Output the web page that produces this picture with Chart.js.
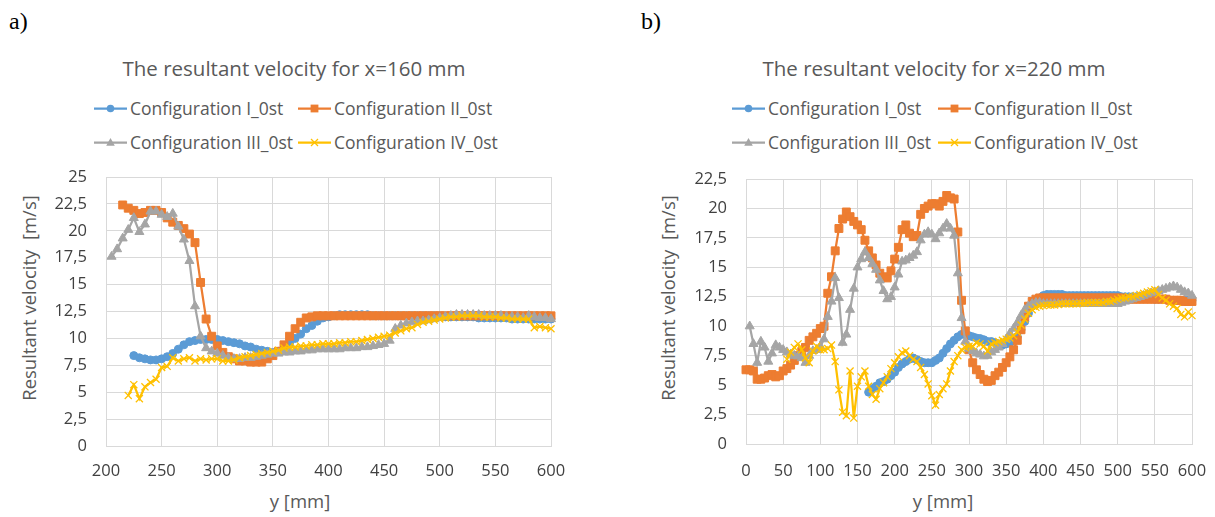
<!DOCTYPE html>
<html>
<head>
<meta charset="utf-8">
<script src="https://cdn.jsdelivr.net/npm/chart.js@4.4.1/dist/chart.umd.min.js"></script>
<style>
html,body{margin:0;padding:0;background:#fff;}
body{width:1215px;height:517px;position:relative;overflow:hidden;font-family:'Open Sans',sans-serif;color:#595959;}
.abs{position:absolute;white-space:nowrap;}
.plabel{font-family:'Liberation Serif','Times New Roman',serif;font-size:24px;color:#000;line-height:1;}
.title{font-size:20.5px;line-height:1.2;transform:translate(-50%,-50%);}
.leg{font-size:17.5px;line-height:1.2;transform:translateY(-50%);display:flex;align-items:center;}
.leg svg{margin-right:3px;flex:none}
.axt{font-size:18.5px;line-height:1.2;transform:translate(-50%,-50%);}
.axt.rot{transform:translate(-50%,-50%) rotate(-90deg);}
canvas{position:absolute;}
</style>
</head>
<body>
<div class="abs plabel" style="left:9px;top:9px">a)</div>
<div class="abs plabel" style="left:641px;top:9px">b)</div>
<div class="abs title" style="left:294px;top:68px">The resultant velocity for x=160 mm</div>
<div class="abs title" style="left:934px;top:68px">The resultant velocity for x=220 mm</div>
<div class="abs axt rot" style="left:29px;top:298px">Resultant velocity&nbsp; [m/s]</div>
<div class="abs axt rot" style="left:668px;top:298px">Resultant velocity&nbsp; [m/s]</div>
<div class="abs axt" style="left:300px;top:501px">y [mm]</div>
<div class="abs axt" style="left:943px;top:501px">y [mm]</div>
<div id="legends"></div>
<canvas id="cLeft" width="600" height="367" style="left:0px;top:150px;width:600px;height:367px"></canvas>
<canvas id="cRight" width="595" height="367" style="left:620px;top:150px;width:595px;height:367px"></canvas>
<script>
// ---------- DATA ----------
const seriesNames = ['Configuration I_0st', 'Configuration II_0st', 'Configuration III_0st', 'Configuration IV_0st'];
const seriesColors = ['#5B9BD5', '#ED7D31', '#A5A5A5', '#FFC000'];

// Panel a) x = 160 mm : y positions [mm]
const leftY_mm = [
 205,210,215,220,225,230,235,240,245,250,
 255,260,265,270,275,280,285,290,295,300,
 305,310,315,320,325,330,335,340,345,350,
 355,360,365,370,375,380,385,390,395,400,
 405,410,415,420,425,430,435,440,445,450,
 455,460,465,470,475,480,485,490,495,500,
 505,510,515,520,525,530,535,540,545,550,
 555,560,565,570,575,580,585,590,595,600];
const leftConfI = [
 null,null,null,null,8.4,8.2,8.1,8.0,8.0,8.1,
 8.3,8.6,9.0,9.4,9.7,9.8,9.9,9.9,9.9,9.9,
 9.8,9.7,9.6,9.5,9.3,9.2,9.0,8.9,8.8,8.7,
 8.8,9.1,9.6,10.0,10.4,10.9,11.2,11.6,11.9,12.0,
 12.1,12.2,12.2,12.2,12.2,12.2,12.2,12.1,12.1,12.1,
 12.1,12.1,12.1,12.1,12.1,12.1,12.1,12.1,12.1,12.1,
 12.0,12.0,12.0,12.0,12.0,12.0,11.9,11.9,11.9,11.9,
 11.9,11.9,11.8,11.8,11.8,11.8,11.8,11.8,11.8,11.8];
const leftConfII = [
 null,null,22.4,22.1,21.9,21.6,21.7,21.9,21.9,21.7,
 21.2,20.8,20.5,20.2,19.7,18.9,15.2,11.8,10.2,9.3,
 8.7,8.3,8.1,7.9,7.9,7.8,7.8,7.8,8.1,8.4,
 8.8,9.4,10.2,10.9,11.5,11.9,12.0,12.1,12.1,12.1,
 12.1,12.1,12.1,12.1,12.1,12.1,12.1,12.1,12.1,12.1,
 12.1,12.1,12.1,12.1,12.1,12.1,12.1,12.1,12.1,12.1,
 12.1,12.1,12.1,12.1,12.1,12.1,12.1,12.1,12.1,12.1,
 12.1,12.1,12.1,12.1,12.1,12.1,12.1,12.1,12.1,12.1];
const leftConfIII = [
 17.6,18.3,19.3,20.1,21.2,19.9,20.6,21.8,21.8,21.5,
 21.3,21.6,20.4,19.2,17.2,13.0,10.2,9.1,8.8,8.6,
 8.4,8.2,8.1,8.1,8.2,8.2,8.3,8.4,8.5,8.6,
 8.6,8.7,8.7,8.8,8.8,8.9,8.9,9.0,9.0,9.0,
 9.0,9.0,9.1,9.1,9.1,9.2,9.2,9.3,9.4,9.5,
 9.8,10.9,11.2,11.4,11.5,11.6,11.6,11.7,11.8,11.9,
 12.0,12.1,12.2,12.2,12.2,12.2,12.2,12.1,12.1,12.1,
 12.1,12.0,12.0,12.0,11.9,12.1,12.0,11.9,11.9,11.8];
const leftConfIV = [
 null,null,null,4.7,5.7,4.4,5.5,5.9,6.2,7.3,
 7.4,8.2,7.9,8.1,8.2,7.9,8.1,8.0,8.1,8.1,
 7.9,7.9,8.0,8.2,8.3,8.4,8.5,8.6,8.7,8.8,
 8.9,9.1,9.2,9.2,9.3,9.3,9.4,9.4,9.5,9.5,
 9.5,9.6,9.6,9.7,9.7,9.8,9.9,10.0,10.1,10.2,
 10.3,10.5,10.7,10.9,11.0,11.3,11.5,11.6,11.7,11.8,
 11.9,12.0,12.0,12.1,12.1,12.1,12.1,12.0,12.0,12.0,
 11.9,11.9,11.8,11.8,11.8,11.8,11.0,11.1,11.0,10.9];

// Panel b) x = 220 mm : y positions [mm]
const rightY_mm = [
 0,5,10,15,20,25,30,35,40,45,
 50,55,60,65,70,75,80,85,90,95,
 100,105,110,115,120,125,130,135,140,145,
 150,155,160,165,170,175,180,185,190,195,
 200,205,210,215,220,225,230,235,240,245,
 250,255,260,265,270,275,280,285,290,295,
 300,305,310,315,320,325,330,335,340,345,
 350,355,360,365,370,375,380,385,390,395,
 400,405,410,415,420,425,430,435,440,445,
 450,455,460,465,470,475,480,485,490,495,
 500,505,510,515,520,525,530,535,540,545,
 550,555,560,565,570,575,580,585,590,595,
 600];
const rightConfI = [
 null,null,null,null,null,null,null,null,null,null,
 null,null,null,null,null,null,null,null,null,null,
 null,null,null,null,null,null,null,null,null,null,
 null,null,null,4.4,4.7,4.9,5.2,5.3,5.5,5.8,
 6.1,6.5,6.8,7.0,7.2,7.3,7.15,7.0,6.9,6.9,
 6.9,7.1,7.3,7.7,8.1,8.5,8.8,9.1,9.3,9.3,
 9.2,9.1,9.0,8.95,8.85,8.7,8.7,8.6,8.5,8.4,
 8.5,8.6,8.8,9.1,9.7,10.4,11.1,11.7,12.1,12.4,
 12.6,12.7,12.7,12.7,12.7,12.7,12.6,12.6,12.6,12.6,
 12.6,12.6,12.6,12.6,12.6,12.6,12.6,12.6,12.6,12.6,
 12.6,12.5,12.5,12.5,12.5,12.5,12.4,12.4,12.4,12.4,
 12.3,12.3,12.3,12.3,12.2,12.2,12.2,12.2,12.2,12.2,
 12.2];
const rightConfII = [
 6.3,6.3,6.2,5.5,5.5,5.6,5.8,5.9,5.7,5.8,
 6.2,6.4,6.7,7.1,7.5,7.85,8.2,8.8,9.1,9.4,
 9.8,10.0,12.8,14.2,16.4,18.3,19.1,19.7,19.3,18.9,
 18.6,18.2,17.3,16.4,15.8,15.2,14.5,14.2,14.1,14.7,
 15.7,16.7,18.2,18.6,17.9,17.6,17.7,19.5,20.0,20.2,
 20.4,20.4,20.2,20.6,21.1,20.9,20.8,18.0,12.2,9.6,
 8.0,6.9,6.3,5.9,5.5,5.3,5.4,5.8,6.1,6.5,
 6.9,7.4,8.0,8.8,9.7,10.8,11.7,12.1,12.3,12.4,
 12.4,12.4,12.4,12.4,12.4,12.4,12.4,12.4,12.4,12.4,
 12.4,12.4,12.4,12.4,12.4,12.4,12.4,12.4,12.4,12.4,
 12.4,12.4,12.3,12.3,12.3,12.3,12.3,12.3,12.3,12.3,
 12.3,12.3,12.3,12.3,12.2,12.2,12.2,12.2,12.1,12.1,
 12.1];
const rightConfIII = [
 null,10.0,8.5,6.9,8.7,8.2,7.0,7.7,8.4,8.2,
 8.0,7.8,7.6,7.5,7.45,7.3,6.9,7.5,7.9,8.0,
 8.3,8.9,10.8,12.1,14.1,12.4,8.6,9.3,11.4,13.2,
 15.0,15.7,16.3,15.8,15.3,14.8,13.9,13.0,12.3,12.5,
 13.3,14.4,15.5,15.6,15.8,16.0,16.3,17.3,17.8,18.0,
 17.8,17.4,17.9,18.3,18.7,18.3,17.7,14.5,10.7,8.7,
 8.1,7.9,7.7,7.6,7.45,7.5,7.8,8.0,8.2,8.5,
 8.9,9.4,9.8,10.3,10.9,11.4,11.7,11.9,12.0,12.0,
 11.9,11.9,11.9,11.9,11.9,11.9,11.9,11.9,11.9,11.9,
 11.9,11.9,11.9,11.9,11.9,11.9,11.9,11.9,11.9,11.9,
 11.9,12.0,12.1,12.2,12.3,12.4,12.5,12.6,12.7,12.8,
 12.9,13.0,13.1,13.2,13.3,13.4,13.3,13.1,12.9,12.8,
 12.6];
const rightConfIV = [
 null,null,null,null,null,null,null,null,null,null,
 null,7.2,7.8,8.2,8.5,8.0,7.3,6.9,7.9,8.3,
 8.0,8.0,8.1,8.4,7.0,4.6,2.7,2.4,6.2,2.2,
 4.9,5.7,6.2,4.9,4.2,3.8,4.7,5.2,5.7,6.4,
 6.9,7.4,7.75,7.9,7.5,7.2,7.0,6.5,5.9,5.1,
 4.1,3.3,4.2,4.7,5.1,6.2,7.0,7.5,8.0,8.2,
 8.3,8.3,8.6,8.5,8.3,7.9,8.5,8.6,8.7,8.8,
 8.9,9.0,9.2,9.5,10.1,10.6,11.1,11.4,11.6,11.7,
 11.75,11.8,11.8,11.8,11.85,11.9,11.9,11.9,11.9,11.9,
 11.95,11.95,12.0,12.0,12.0,12.0,12.0,12.1,12.1,12.2,
 12.3,12.4,12.4,12.5,12.5,12.6,12.7,12.8,12.9,13.0,
 13.1,12.7,12.4,12.2,11.9,11.7,11.5,11.0,10.8,11.2,
 10.9];

// tick settings (axis ranges)
const leftXRange = [200, 600];
const rightXRange = [0, 600];
const leftYMax = 25;
const rightYMax = 22.5;

// ---------- STYLE ----------
const pointStyles = ['circle', 'rect', 'triangle', 'crossRot'];
const pointRadii = [4.0, 5.6, 5.2, 5.0];
const FONT = "'Open Sans', sans-serif";
const TEXT = '#404040';
const GRID = '#d9d9d9';

function buildDatasets(xs, seriesList) {
  return seriesList.map((vals, k) => ({
    label: seriesNames[k],
    data: xs.map((x, i) => ({x: x, y: vals[i]})),
    borderColor: seriesColors[k],
    backgroundColor: seriesColors[k],
    pointBackgroundColor: seriesColors[k],
    pointBorderColor: seriesColors[k],
    pointBorderWidth: k === 3 ? 1.3 : 1,
    borderWidth: 2.25,
    pointStyle: pointStyles[k],
    pointRadius: pointRadii[k],
    pointHoverRadius: pointRadii[k],
    tension: 0,
    spanGaps: false,
    clip: false,
    order: 3 - k
  }));
}

function fmt(v) {
  return (Math.round(v * 10) / 10).toString().replace('.', ',');
}

function makeChart(id, xs, seriesList, xRange, yMax, g) {
  return new Chart(document.getElementById(id), {
    type: 'line',
    data: {datasets: buildDatasets(xs, seriesList)},
    options: {
      responsive: false,
      animation: false,
      devicePixelRatio: 1,
      events: [],
      layout: {padding: {left: 0, top: g.top, right: g.right, bottom: 0}},
      plugins: {legend: {display: false}, tooltip: {enabled: false}, title: {display: false}},
      scales: {
        x: {
          type: 'linear', min: xRange[0], max: xRange[1],
          ticks: {stepSize: 50, autoSkip: false, maxRotation: 0, padding: g.xpad, color: TEXT,
                  font: {family: FONT, size: 16.5}},
          grid: {color: GRID, lineWidth: 1, drawTicks: false},
          border: {color: GRID, width: 1},
          afterFit(s) { s.height = g.xh; s.paddingLeft = 0; s.paddingRight = 0; }
        },
        y: {
          type: 'linear', min: 0, max: yMax,
          ticks: {stepSize: 2.5, padding: 19, color: TEXT, font: {family: FONT, size: 16.5},
                  callback: (v) => fmt(v)},
          grid: {color: GRID, lineWidth: 1, drawTicks: false},
          border: {color: GRID, width: 1},
          afterFit(s) { s.width = g.yw; s.paddingTop = 0; s.paddingBottom = 0; }
        }
      }
    }
  });
}

makeChart('cLeft', leftY_mm, [leftConfI, leftConfII, leftConfIII, leftConfIV], leftXRange, leftYMax,
  {top: 27, right: 49, yw: 106, xh: 71, xpad: 15.5});
makeChart('cRight', rightY_mm, [rightConfI, rightConfII, rightConfIII, rightConfIV], rightXRange, rightYMax,
  {top: 29, right: 23, yw: 126, xh: 73, xpad: 17});

// ---------- LEGENDS (HTML) ----------
function markerSvg(k) {
  const c = seriesColors[k];
  let m = '';
  if (k === 0) m = `<circle cx="16.5" cy="7" r="3.8" fill="${c}"/>`;
  else if (k === 1) m = `<rect x="12.6" y="3.1" width="7.8" height="7.8" fill="${c}"/>`;
  else if (k === 2) m = `<polygon points="16.5,2.4 20.8,10.2 12.2,10.2" fill="${c}"/>`;
  else m = `<line x1="13" y1="3.5" x2="20" y2="10.5" stroke="${c}" stroke-width="1.3"/><line x1="13" y1="10.5" x2="20" y2="3.5" stroke="${c}" stroke-width="1.3"/>`;
  return `<svg width="33" height="14" viewBox="0 0 33 14"><line x1="0" y1="7" x2="33" y2="7" stroke="${c}" stroke-width="2.25"/>${m}</svg>`;
}
const legendLayout = [
  {cols: [94, 298], rows: [108, 142]},
  {cols: [732, 938], rows: [108, 142]}
];
const holder = document.getElementById('legends');
legendLayout.forEach(L => {
  seriesNames.forEach((name, k) => {
    const d = document.createElement('div');
    d.className = 'abs leg';
    d.style.left = L.cols[k % 2] + 'px';
    d.style.top = L.rows[Math.floor(k / 2)] + 'px';
    d.innerHTML = markerSvg(k) + '<span>' + name + '</span>';
    holder.appendChild(d);
  });
});
</script>
</body>
</html>
